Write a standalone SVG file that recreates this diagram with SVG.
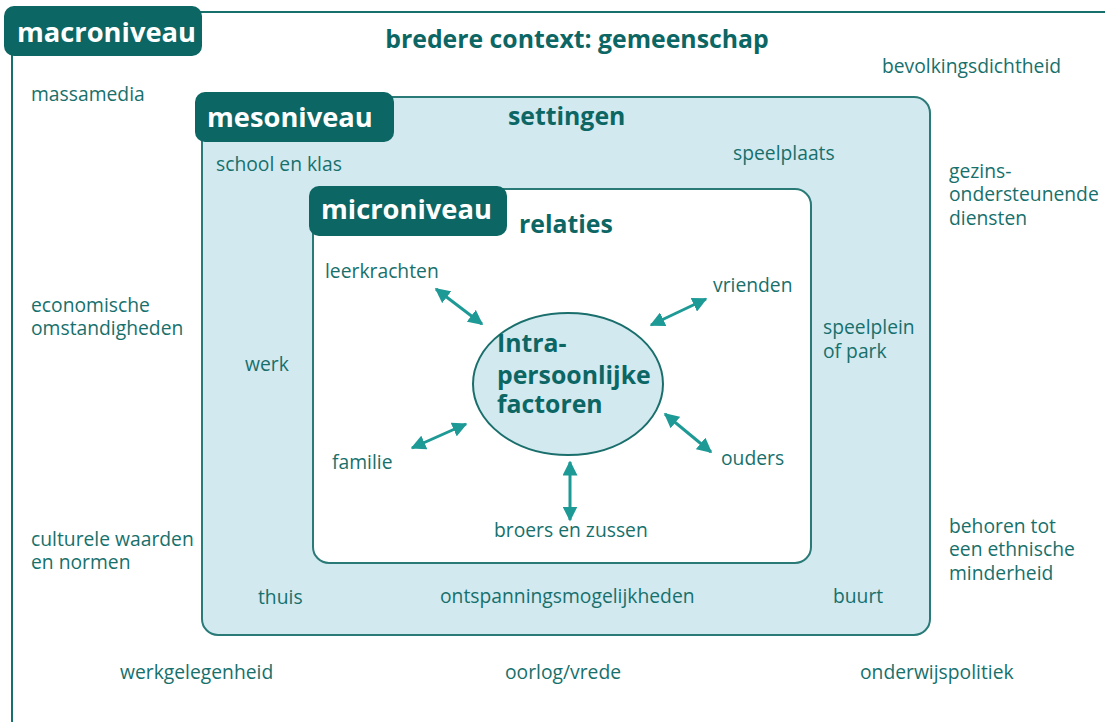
<svg xmlns="http://www.w3.org/2000/svg" width="1105" height="722" viewBox="0 0 1105 722">
<defs>
<style>
.t{font-family:"Open Sans","Noto Sans","Liberation Sans",sans-serif;font-size:19.3px;fill:#17706c}
.b{font-family:"Open Sans","Noto Sans","Liberation Sans",sans-serif;font-weight:bold;font-size:24.8px;fill:#0b6664}
.tab{fill:#0b6664}
.tabt{font-family:"Open Sans","Noto Sans","Liberation Sans",sans-serif;font-weight:bold;font-size:27.3px;fill:#ffffff}
.ar{stroke:#1e9a96;stroke-width:3;fill:none;marker-start:url(#ah);marker-end:url(#ah)}
</style>
<marker id="ah" viewBox="0 0 10 10" refX="9" refY="5" markerWidth="5" markerHeight="5" orient="auto-start-reverse" markerUnits="strokeWidth">
<path d="M0,0 L10,5 L0,10 z" fill="#1e9a96"/>
</marker>
</defs>
<rect width="1105" height="722" fill="#ffffff"/>
<g id="macro">
<rect x="12" y="12" width="1115" height="722" rx="14" fill="#ffffff" stroke="#17706c" stroke-width="2"/>
<rect class="tab" x="4" y="6" width="198" height="50" rx="10"/>
<text class="tabt" x="17" y="42">macroniveau</text>
<text class="b" x="577" y="48" text-anchor="middle">bredere context: gemeenschap</text>
<text class="t" x="31" y="101">massamedia</text>
<text class="t" x="882" y="73">bevolkingsdichtheid</text>
<text class="t" x="949" y="178">gezins-</text>
<text class="t" x="949" y="201">ondersteunende</text>
<text class="t" x="949" y="225">diensten</text>
<text class="t" x="31" y="312">economische</text>
<text class="t" x="31" y="335">omstandigheden</text>
<text class="t" x="31" y="546">culturele waarden</text>
<text class="t" x="31" y="569">en normen</text>
<text class="t" x="949" y="533">behoren tot</text>
<text class="t" x="949" y="556">een ethnische</text>
<text class="t" x="949" y="580">minderheid</text>
<text class="t" x="120" y="679">werkgelegenheid</text>
<text class="t" x="505" y="679">oorlog/vrede</text>
<text class="t" x="860" y="679">onderwijspolitiek</text>
</g>
<g id="meso">
<rect x="202" y="97" width="728" height="538" rx="16" fill="#d2e9f0" stroke="#2a7a78" stroke-width="2"/>
<rect class="tab" x="195" y="92" width="199" height="50" rx="10"/>
<text class="tabt" x="207" y="127">mesoniveau</text>
<text class="b" x="508" y="125">settingen</text>
<text class="t" x="216" y="171">school en klas</text>
<text class="t" x="733" y="160">speelplaats</text>
<text class="t" x="245" y="371">werk</text>
<text class="t" x="823" y="334">speelplein</text>
<text class="t" x="823" y="358">of park</text>
<text class="t" x="258" y="604">thuis</text>
<text class="t" x="440" y="603">ontspanningsmogelijkheden</text>
<text class="t" x="833" y="603">buurt</text>
</g>
<g id="micro">
<rect x="313" y="189" width="498" height="374" rx="16" fill="#ffffff" stroke="#2a7a78" stroke-width="2"/>
<rect class="tab" x="309" y="186" width="198" height="50" rx="10"/>
<text class="tabt" x="321" y="219">microniveau</text>
<text class="b" x="519" y="233">relaties</text>
<text class="t" x="325" y="278">leerkrachten</text>
<text class="t" x="713" y="292">vrienden</text>
<text class="t" x="332" y="469">familie</text>
<text class="t" x="721" y="465">ouders</text>
<text class="t" x="494" y="537">broers en zussen</text>
</g>
<g id="intra">
<ellipse cx="568" cy="384" rx="95" ry="71" fill="#d2e9f0" stroke="#1a6f6c" stroke-width="2"/>
<text class="b" x="497" y="352" font-size="24.6">Intra-</text>
<text class="b" x="497" y="384" font-size="24.6">persoonlijke</text>
<text class="b" x="497" y="413" font-size="24.6">factoren</text>
</g>
<g id="connectors">
<line class="ar" x1="436" y1="289" x2="482" y2="324"/>
<line class="ar" x1="706" y1="299" x2="651" y2="325"/>
<line class="ar" x1="412" y1="448" x2="466" y2="424"/>
<line class="ar" x1="665" y1="414" x2="711" y2="452"/>
<line class="ar" x1="570" y1="462" x2="570" y2="520"/>
</g>
</svg>
